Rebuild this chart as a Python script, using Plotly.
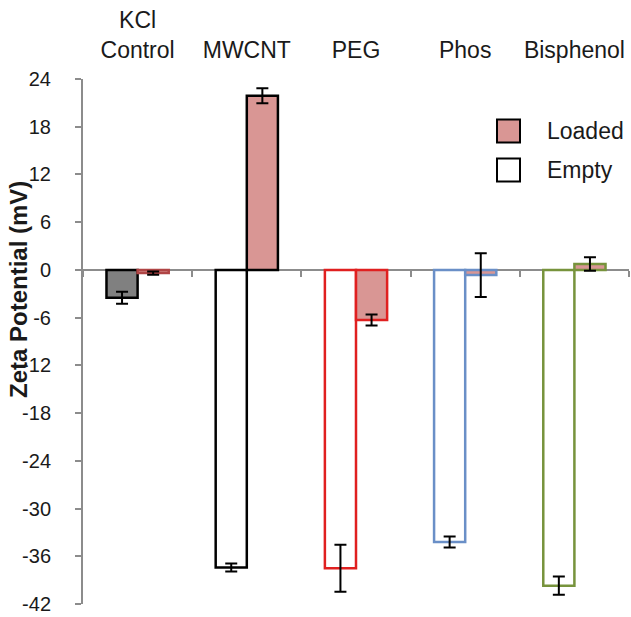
import plotly.graph_objects as go

categories = ["KCl<br>Control", "MWCNT", "PEG", "Phos", "Bisphenol"]
empty_vals = [-3.5, -37.4, -37.5, -34.2, -39.7]
empty_err = [0.75, 0.5, 2.95, 0.7, 1.15]
loaded_vals = [-0.4, 21.9, -6.3, -0.65, 0.75]
loaded_err = [0.2, 0.95, 0.7, 2.75, 0.85]
y_ticks = [24, 18, 12, 6, 0, -6, -12, -18, -24, -30, -36, -42]

PINK = "#D99694"
empty_fill = ["#808080", "#FFFFFF", "#FFFFFF", "#FFFFFF", "#FFFFFF"]
outline = ["#000000", "#000000", "#E02020", "#6A8FC7", "#77933C"]
loaded_outline = ["#B04545", "#000000", "#E02020", "#6A8FC7", "#77933C"]
FONT = "Liberation Sans, Arial, sans-serif"
TXT = "#1a1a1a"

ymin, ymax = -42, 24
W, H = 631, 617
ML, MR, MT, MB = 83, 2, 79, 13
pw, ph = W - ML - MR, H - MT - MB


def px(x):
    return (x - ML) / pw


def py(y):
    return (H - MB - y) / ph


fig = go.Figure()
fig.add_trace(go.Bar(
    x=categories, y=empty_vals, name="Empty", showlegend=False,
    marker=dict(color=empty_fill, line=dict(color=outline, width=2.5)),
    error_y=dict(type="data", array=empty_err, color="black", thickness=2, width=6),
))
fig.add_trace(go.Bar(
    x=categories, y=loaded_vals, name="Loaded", showlegend=False,
    marker=dict(color=PINK, line=dict(color=loaded_outline, width=2.5)),
    error_y=dict(type="data", array=loaded_err, color="black", thickness=2, width=6),
))
# helper trace for boundary ticks along the zero line
fig.add_trace(go.Scatter(x=categories, y=[None] * len(categories), xaxis="x2",
                         showlegend=False, hoverinfo="skip", mode="markers"))

fig.update_layout(
    width=W, height=H,
    margin=dict(l=ML, r=MR, t=MT, b=MB, autoexpand=False),
    paper_bgcolor="white", plot_bgcolor="white",
    barmode="group", bargap=0.43, bargroupgap=0,
    showlegend=False,
    font=dict(family=FONT, size=20, color=TXT),
    xaxis=dict(
        type="category", categoryorder="array", categoryarray=categories,
        side="top", showline=False, ticks="", showgrid=False, zeroline=False,
        ticklabelstandoff=15, tickfont=dict(size=23, color=TXT), automargin=False,
    ),
    xaxis2=dict(
        type="category", categoryorder="array", categoryarray=categories,
        matches="x", overlaying="x", anchor="free",
        position=(0 - ymin) / (ymax - ymin),
        side="bottom", showline=False, showgrid=False, zeroline=False,
        tickson="boundaries", ticks="outside", ticklen=6, tickwidth=2,
        tickcolor="#8C8C8C", showticklabels=False, automargin=False,
    ),
    yaxis=dict(
        range=[ymin, ymax], tickvals=y_ticks, ticktext=[str(v) for v in y_ticks],
        showline=True, linecolor="#8C8C8C", linewidth=2,
        ticks="outside", ticklen=6, tickwidth=2, tickcolor="#8C8C8C",
        showgrid=False, zeroline=True, zerolinecolor="#8C8C8C", zerolinewidth=2,
        layer="above traces", ticklabelstandoff=20, automargin=False,
        tickfont=dict(size=20, color=TXT),
    ),
)

# y-axis title
fig.add_annotation(
    x=px(18), y=py(290), xref="paper", yref="paper",
    text="<b>Zeta Potential (mV)</b>", textangle=-90, showarrow=False,
    xanchor="center", yanchor="middle", font=dict(size=24, color=TXT, family=FONT),
)

# legend (manual, to match the large swatches)
legend_items = [("Loaded", PINK, 131), ("Empty", "#FFFFFF", 170)]
for label, fill, yc in legend_items:
    fig.add_shape(type="rect", xref="paper", yref="paper",
                  x0=px(497), x1=px(520), y0=py(yc - 11.5), y1=py(yc + 11.5),
                  fillcolor=fill, line=dict(color="black", width=2))
    fig.add_annotation(x=px(545), y=py(yc), xref="paper", yref="paper",
                       text=label, showarrow=False, xanchor="left", yanchor="middle",
                       font=dict(size=23, color=TXT, family=FONT))

fig.write_html("out.html", config={"displayModeBar": False},
               post_script="document.body.style.margin='0';")
